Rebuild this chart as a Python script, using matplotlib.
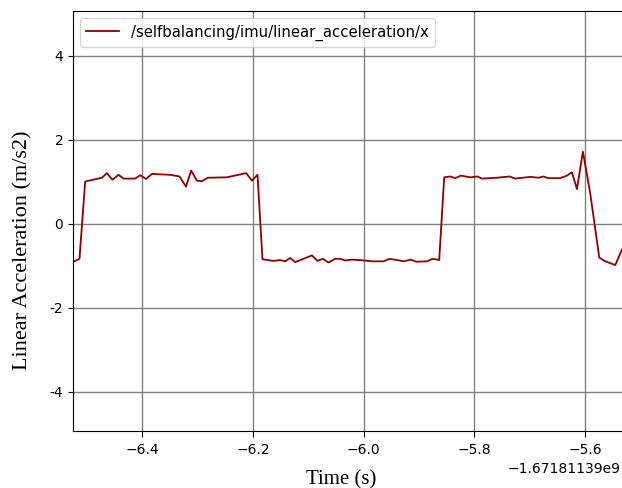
import matplotlib
matplotlib.use("Agg")
import matplotlib.pyplot as plt
from matplotlib.ticker import ScalarFormatter, FixedLocator, FixedFormatter

OFFSET = -1671811390.0
t_rel = [
    -6.5247, -6.5133, -6.5030, -6.4728, -6.4638, -6.4537, -6.4428, -6.4338,
    -6.4126, -6.4036, -6.3928, -6.3825, -6.3494, -6.3326, -6.3210, -6.3115,
    -6.3012, -6.2921, -6.2813, -6.2470, -6.2121, -6.2018, -6.1917, -6.1827,
    -6.1687, -6.1628, -6.1507, -6.1416, -6.1326, -6.1236, -6.0934, -6.0833,
    -6.0735, -6.0634, -6.0513, -6.0423, -6.0332, -6.0211, -6.0061, -5.9850,
    -5.9640, -5.9532, -5.9398, -5.9279, -5.9145, -5.9050, -5.8856, -5.8748,
    -5.8634, -5.8544, -5.8436, -5.8345, -5.8242, -5.8074, -5.7942, -5.7863,
    -5.7592, -5.7364, -5.7261, -5.6990, -5.6840, -5.6750, -5.6659, -5.6448,
    -5.6327, -5.6237, -5.6146, -5.6038, -5.5906, -5.5743, -5.5648, -5.5454,
    -5.5329, -5.5200,
]
accel_x = [
    -0.90, -0.83, 1.01, 1.10, 1.21, 1.05, 1.17, 1.08,
    1.08, 1.16, 1.07, 1.19, 1.17, 1.13, 0.89, 1.27,
    1.03, 1.02, 1.10, 1.11, 1.21, 1.03, 1.17, -0.84,
    -0.87, -0.88, -0.86, -0.89, -0.81, -0.91, -0.75, -0.88,
    -0.83, -0.92, -0.83, -0.83, -0.87, -0.85, -0.86, -0.89,
    -0.89, -0.83, -0.86, -0.89, -0.85, -0.90, -0.89, -0.83,
    -0.86, 1.11, 1.13, 1.09, 1.15, 1.11, 1.13, 1.08,
    1.10, 1.13, 1.08, 1.12, 1.10, 1.13, 1.09, 1.09,
    1.15, 1.23, 0.83, 1.72, 0.73, -0.80, -0.88, -0.98,
    -0.60, -0.40,
]
y_ticks = [-4, -2, 0, 2, 4]
y_tick_labels = ["-4", "-2", "0", "2", "4"]
x_ticks_rel = [-6.4, -6.2, -6.0, -5.8, -5.6]
series_label = "/selfbalancing/imu/linear_acceleration/x"

W, H = 622, 488
fig = plt.figure(figsize=(W / 100, H / 100), dpi=100)
ax = fig.add_axes([73 / W, 57 / H, 556.3 / W, 420 / H])

times = [OFFSET + t for t in t_rel]
ax.plot(times, accel_x, color="#8b0000", lw=1.3, label=series_label)

ax.set_xlim(OFFSET - 6.525, OFFSET - 5.52)
ax.set_ylim(-4.93, 5.07)
ax.xaxis.set_major_locator(FixedLocator([OFFSET + v for v in x_ticks_rel]))
fmt = ScalarFormatter(useOffset=OFFSET)
ax.xaxis.set_major_formatter(fmt)
ax.yaxis.set_major_locator(FixedLocator(y_ticks))
ax.yaxis.set_major_formatter(FixedFormatter(y_tick_labels))
ax.tick_params(labelsize=10)
ax.tick_params(axis="x", length=4.5, pad=4.5)
ax.xaxis.get_offset_text().set_x((621 - 73) / 556.3)
ax.grid(True, color="#808080", lw=1.0)
ax.set_axisbelow(True)

serif = ["Liberation Serif", "DejaVu Serif"]
ax.set_xlabel("Time (s)", fontsize=15, family=serif, labelpad=9)
ax.xaxis.label.set_x((341 - 73) / 556.3)
ax.set_ylabel("Linear Acceleration (m/s2)", fontsize=16, family=serif)
ax.yaxis.set_label_coords((32 - 73) / 556.3, 0.431)
ax.legend(loc="upper left", fontsize=10.7, handlelength=2.2)

fig.savefig("out.png", dpi=100)
